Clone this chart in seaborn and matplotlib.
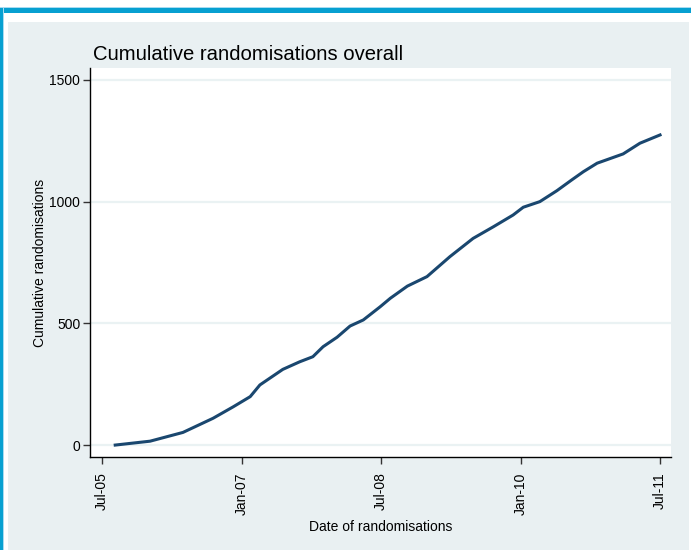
import matplotlib
matplotlib.use("Agg")
import matplotlib.pyplot as plt
from matplotlib.patches import Rectangle
import pandas as pd
import seaborn as sns

dates = ["2005-08-22", "2006-01-06", "2006-05-15", "2006-09-10", "2006-11-28",
         "2007-02-03", "2007-03-13", "2007-06-11", "2007-08-16", "2007-10-07",
         "2007-11-16", "2008-01-10", "2008-03-01", "2008-04-22", "2008-06-27",
         "2008-08-06", "2008-10-12", "2008-12-28", "2009-03-28", "2009-06-27",
         "2009-09-15", "2009-12-01", "2010-01-10", "2010-03-16", "2010-05-22",
         "2010-07-19", "2010-09-03", "2010-10-27", "2011-02-06", "2011-04-13",
         "2011-07-01"]
cumulative = [0, 16, 52, 110, 157, 199, 247, 311, 342, 363, 404, 443, 489, 514,
              568, 603, 653, 692, 774, 849, 897, 945, 977, 1000, 1045, 1089,
              1123, 1158, 1196, 1240, 1274]
tick_dates = ["2005-07-01", "2007-01-01", "2008-07-01", "2010-01-01", "2011-07-01"]
tick_labels = ["Jul-05", "Jan-07", "Jul-08", "Jan-10", "Jul-11"]
y_ticks = [0, 500, 1000, 1500]

df = pd.DataFrame({"date": pd.to_datetime(dates), "cum": cumulative})

plt.rcParams["font.family"] = ["Liberation Sans", "DejaVu Sans"]

W, H = 691, 550
fig = plt.figure(figsize=(W / 100, H / 100), dpi=100, facecolor="white")

def fr(x0, y0, x1, y1, color):
    fig.patches.append(Rectangle((x0 / W, 1 - y1 / H), (x1 - x0) / W, (y1 - y0) / H,
                                 transform=fig.transFigure, facecolor=color,
                                 edgecolor="none", zorder=-10))

fr(0, 6.5, W, 8, "#a9dbf0")
fr(0, 8, W, 12.7, "#07a0d1")
fr(0, 8, 3, H, "#07a0d1")
fr(3, 8, 4, H, "#a9dbf0")
fr(8, 22, 689, H, "#e9f0f2")

ax = fig.add_axes([90 / W, 1 - 457 / H, (671 - 90) / W, (457 - 68) / H])
ax.set_zorder(5)
ax.set_facecolor("white")

sns.lineplot(data=df, x="date", y="cum", ax=ax, color="#1a476f", linewidth=2.2)

ax.set_xlim(pd.Timestamp("2005-05-15"), pd.Timestamp("2011-08-13"))
ax.set_ylim(-49, 1549)
ax.set_yticks(y_ticks)
ax.set_yticklabels([str(v) for v in y_ticks], fontsize=10)
ax.set_xticks(pd.to_datetime(tick_dates))
ax.set_xticklabels(tick_labels, rotation=90, fontsize=10)

ax.grid(axis="y", color="#eaf2f3", linewidth=1.6)
ax.set_axisbelow(True)
for s in ["top", "right"]:
    ax.spines[s].set_visible(False)
for s in ["left", "bottom"]:
    ax.spines[s].set_color("black")
    ax.spines[s].set_linewidth(1.0)
ax.tick_params(axis="both", length=5, width=1, color="#333333", labelcolor="black", pad=2)
ax.tick_params(axis="x", pad=6)

ax.set_xlabel("Date of randomisations", fontsize=10, labelpad=4)
ax.set_ylabel("Cumulative randomisations", fontsize=10, labelpad=2)
ax.set_title("Cumulative randomisations overall", fontsize=14.6, loc="left", pad=6, x=0.005)

fig.savefig("out.png", dpi=100, facecolor="white")
